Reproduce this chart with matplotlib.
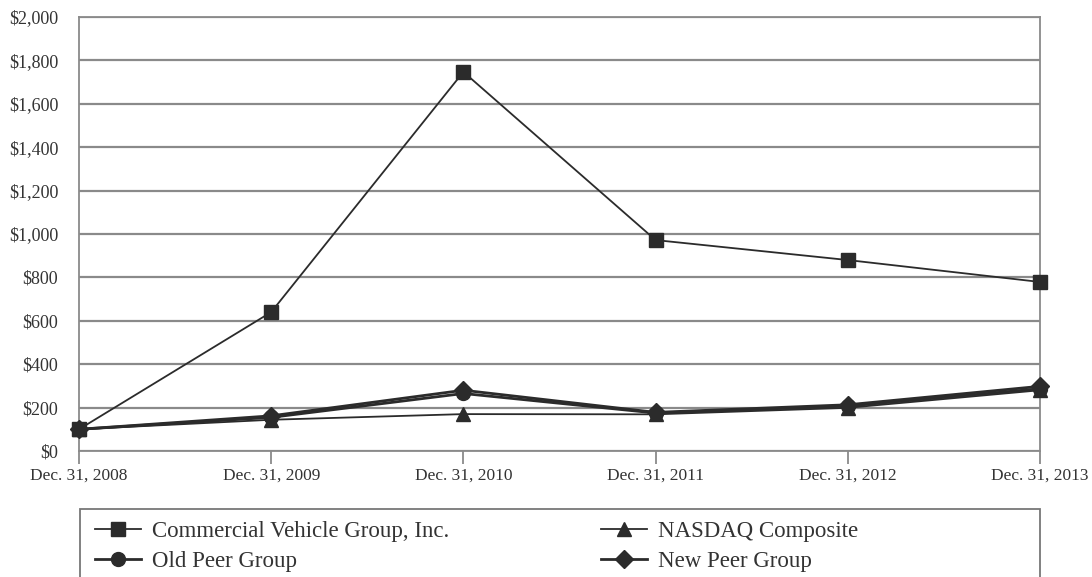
import numpy as np
import matplotlib
matplotlib.use("Agg")
import matplotlib.pyplot as plt
from matplotlib.patches import Rectangle

# data
dates = ["Dec. 31, 2008", "Dec. 31, 2009", "Dec. 31, 2010",
         "Dec. 31, 2011", "Dec. 31, 2012", "Dec. 31, 2013"]
cvg = [100, 640, 1747, 972, 880, 779]
nasdaq = [100, 144, 170, 169, 199, 280]
old_peer = [100, 155, 265, 175, 207, 287]
new_peer = [100, 162, 280, 178, 213, 298]
yticks = np.arange(0, 2001, 200)

plt.rcParams['font.family'] = ['Liberation Serif', 'DejaVu Serif']

fig = plt.figure(figsize=(10.92, 5.77), dpi=100)
ax = fig.add_axes([79 / 1092, 1 - 451 / 577, (1040 - 79) / 1092, (451 - 17) / 577])

x = np.arange(len(dates))
lc = '#2b2b2b'
h1, = ax.plot(x, cvg, color=lc, lw=1.3, marker='s', ms=10, clip_on=False, zorder=5,
              label="Commercial Vehicle Group, Inc.")
h2, = ax.plot(x, nasdaq, color=lc, lw=1.3, marker='^', ms=10, clip_on=False, zorder=4,
              label="NASDAQ Composite")
h3, = ax.plot(x, old_peer, color=lc, lw=2.0, marker='o', ms=10, clip_on=False, zorder=4,
              label="Old Peer Group")
h4, = ax.plot(x, new_peer, color=lc, lw=2.0, marker='D', ms=9, clip_on=False, zorder=4,
              label="New Peer Group")

ax.set_xlim(0, len(dates) - 1)
ax.set_ylim(0, 2000)
ax.set_yticks(yticks)
ax.set_yticklabels(["${:,}".format(v) for v in yticks])
ax.set_xticks(x)
ax.set_xticklabels(dates)
ax.grid(axis='y', color='#8a8a8a', lw=1.6)
ax.set_axisbelow(True)
for s in ax.spines.values():
    s.set_color('#8a8a8a')
    s.set_linewidth(1.3)
ax.tick_params(axis='y', length=0, labelsize=13, labelcolor='#333333', pad=15)
ax.tick_params(axis='x', length=9, width=1.3, color='#8a8a8a', labelsize=12.5,
               labelcolor='#333333', pad=3)

# legend box, cut off at the bottom like the original
fig.patches.append(Rectangle((80 / 1092, -0.05), (1040 - 80) / 1092, 1 - 509 / 577 + 0.05,
                             transform=fig.transFigure, fill=False, edgecolor='#777777', lw=1.3))
fig.legend(handles=[h1, h3, h2, h4], ncol=2, frameon=False, fontsize=16.5,
           loc='upper left', bbox_to_anchor=(95 / 1092, 1 - 521 / 577),
           handlelength=2.0, handletextpad=0.5, columnspacing=6.6, labelspacing=0.4,
           borderpad=0, borderaxespad=0, labelcolor='#333333')

fig.savefig("out.png", dpi=100)
